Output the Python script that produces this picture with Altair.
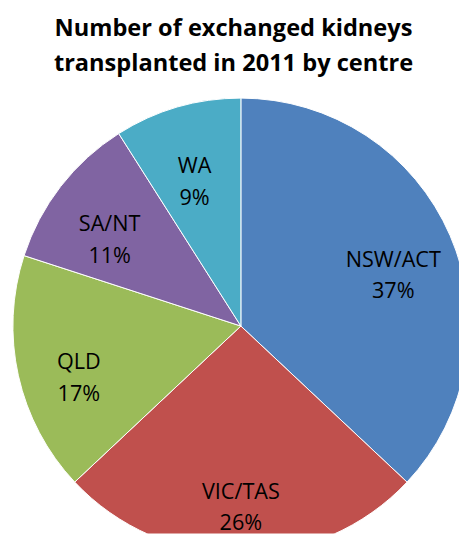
import altair as alt
import pandas as pd

regions = ["NSW/ACT", "VIC/TAS", "QLD", "SA/NT", "WA"]
shares = [37, 26, 17, 11, 9]
colors = ["#4F81BD", "#C0504D", "#9BBB59", "#8064A2", "#4BACC6"]
title_lines = ["Number of exchanged kidneys", "transplanted in 2011 by centre"]

df = pd.DataFrame({"region": regions, "share": shares, "order": list(range(len(regions)))})
df["label"] = [f"{r}\n{s}%" for r, s in zip(regions, shares)]

TOP = 80
W, H = 459, 450
CX, CY = 237, 239

base = alt.Chart(df).encode(
    theta=alt.Theta("share:Q", stack=True),
    order=alt.Order("order:Q"),
)

pie = base.mark_arc(outerRadius=232, stroke="white", strokeWidth=1, clip=True).encode(
    color=alt.Color("region:N", scale=alt.Scale(domain=regions, range=colors), legend=None),
    x=alt.value(CX),
    y=alt.value(CY),
)

labels = base.mark_text(
    radius=169, font="Open Sans", fontSize=22, lineBreak="\n", lineHeight=32, color="black"
).encode(text="label:N", x=alt.value(CX), y=alt.value(CY))

chart = (
    alt.layer(pie, labels)
    .properties(
        width=W,
        height=H,
        padding={"left": 0, "top": TOP, "right": 0, "bottom": 0},
        autosize=alt.AutoSizeParams(type="none"),
        title=alt.Title(
            title_lines,
            fontSize=24,
            font="Open Sans",
            fontWeight="bold",
            lineHeight=35,
            anchor="middle",
            offset=16,
            color="black",
        ),
    )
    .configure_view(stroke=None)
)

chart.save("out.html", embed_options={"renderer": "svg", "actions": False})
